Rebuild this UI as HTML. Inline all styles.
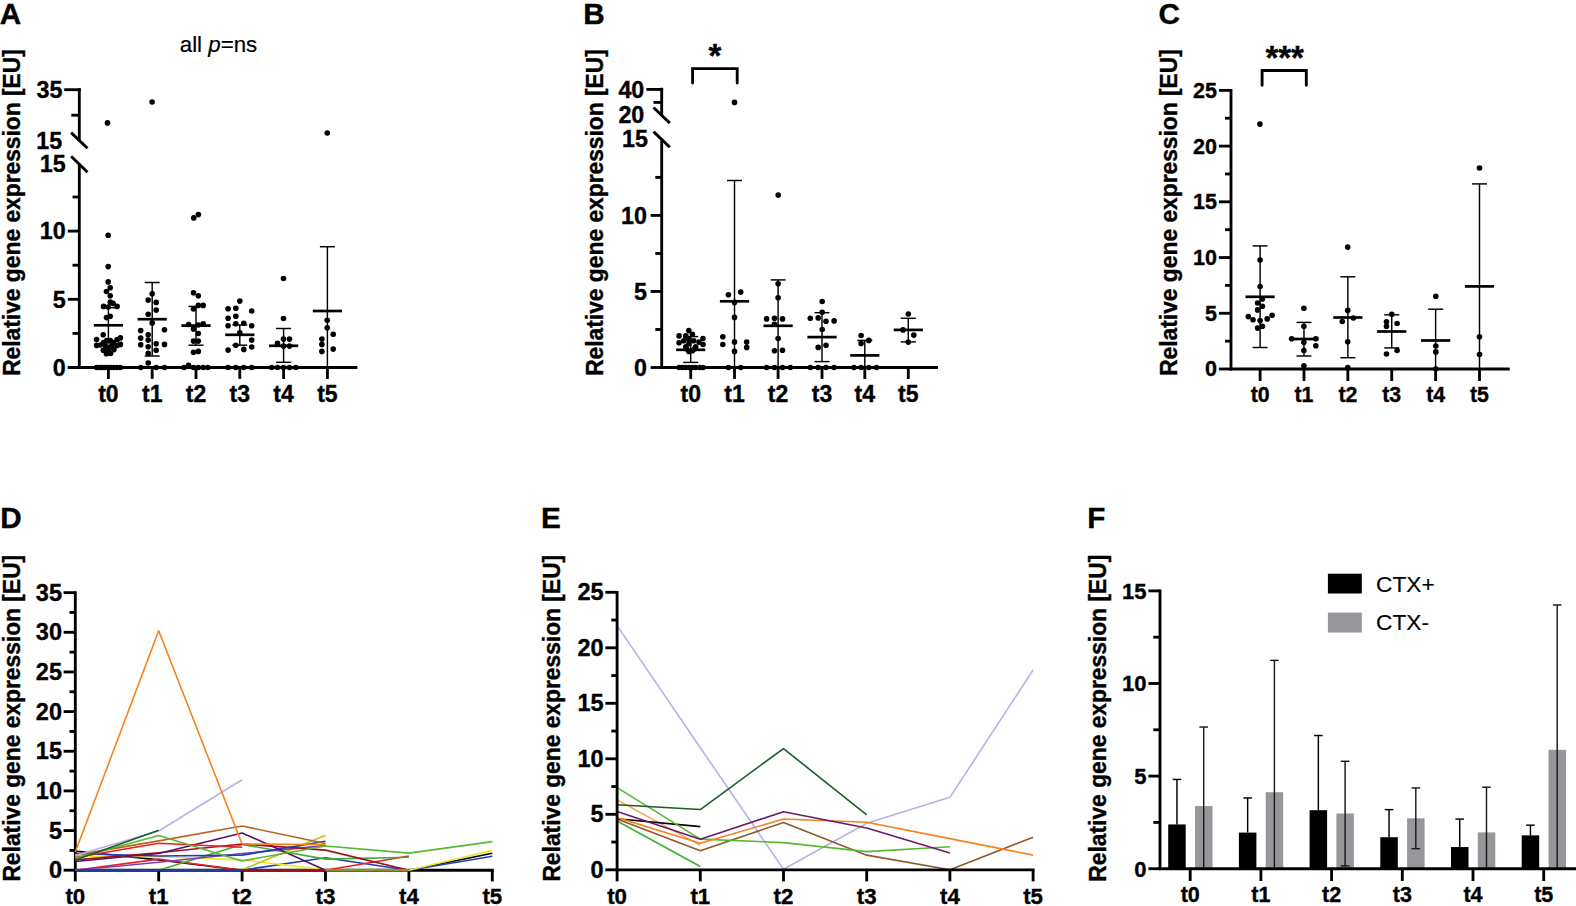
<!DOCTYPE html>
<html lang="en"><head><meta charset="utf-8"><title>Figure</title>
<style>html,body{margin:0;padding:0;background:#fff}body{width:1576px;height:906px;overflow:hidden}svg{display:block}</style></head>
<body>
<svg width="1576" height="906" viewBox="0 0 1576 906" font-family="'Liberation Sans', sans-serif" fill="#000">
<rect width="1576" height="906" fill="#fff"/>
<text x="-0.30" y="24.00" font-size="29.7" font-weight="bold" text-anchor="start" stroke="#000" stroke-width="0.35" >A</text>
<text x="583.20" y="24.00" font-size="29.7" font-weight="bold" text-anchor="start" stroke="#000" stroke-width="0.35" >B</text>
<text x="1158.60" y="24.20" font-size="29.7" font-weight="bold" text-anchor="start" stroke="#000" stroke-width="0.35" >C</text>
<text x="0.20" y="527.60" font-size="29.7" font-weight="bold" text-anchor="start" stroke="#000" stroke-width="0.35" >D</text>
<text x="541.00" y="527.60" font-size="29.7" font-weight="bold" text-anchor="start" stroke="#000" stroke-width="0.35" >E</text>
<text x="1087.30" y="527.60" font-size="29.7" font-weight="bold" text-anchor="start" stroke="#000" stroke-width="0.35" >F</text>
<text transform="translate(19.80,212.50) rotate(-90) scale(1,1.02)" font-size="22.8" font-weight="bold" stroke="#000" stroke-width="0.35" text-anchor="middle">Relative gene expression [EU]</text>
<text x="218.50" y="52.00" font-size="22.3" font-weight="normal" text-anchor="middle"  stroke="#000" stroke-width="0.2">all <tspan font-style="italic">p</tspan>=ns</text>
<line x1="79.30" y1="368.93" x2="79.30" y2="163.90" stroke="#000" stroke-width="2.85" stroke-linecap="butt"/>
<line x1="79.30" y1="141.00" x2="79.30" y2="88.28" stroke="#000" stroke-width="2.85" stroke-linecap="butt"/>
<line x1="71.10" y1="132.60" x2="87.50" y2="148.30" stroke="#000" stroke-width="2.85" stroke-linecap="butt"/>
<line x1="71.10" y1="156.20" x2="87.50" y2="172.20" stroke="#000" stroke-width="2.85" stroke-linecap="butt"/>
<line x1="77.88" y1="367.50" x2="357.40" y2="367.50" stroke="#000" stroke-width="2.85" stroke-linecap="butt"/>
<line x1="67.80" y1="367.50" x2="79.30" y2="367.50" stroke="#000" stroke-width="2.85" stroke-linecap="butt"/>
<line x1="67.80" y1="367.50" x2="79.30" y2="367.50" stroke="#000" stroke-width="2.85" stroke-linecap="butt"/>
<text x="65.60" y="375.89" font-size="23.3" font-weight="bold" text-anchor="end" stroke="#000" stroke-width="0.35" >0</text>
<line x1="67.80" y1="299.30" x2="79.30" y2="299.30" stroke="#000" stroke-width="2.85" stroke-linecap="butt"/>
<text x="65.60" y="307.69" font-size="23.3" font-weight="bold" text-anchor="end" stroke="#000" stroke-width="0.35" >5</text>
<line x1="67.80" y1="231.10" x2="79.30" y2="231.10" stroke="#000" stroke-width="2.85" stroke-linecap="butt"/>
<text x="65.60" y="239.49" font-size="23.3" font-weight="bold" text-anchor="end" stroke="#000" stroke-width="0.35" >10</text>
<line x1="72.50" y1="333.40" x2="79.30" y2="333.40" stroke="#000" stroke-width="2.85" stroke-linecap="butt"/>
<line x1="72.50" y1="265.20" x2="79.30" y2="265.20" stroke="#000" stroke-width="2.85" stroke-linecap="butt"/>
<line x1="72.50" y1="197.00" x2="79.30" y2="197.00" stroke="#000" stroke-width="2.85" stroke-linecap="butt"/>
<text x="65.60" y="172.19" font-size="23.3" font-weight="bold" text-anchor="end" stroke="#000" stroke-width="0.35" >15</text>
<line x1="64.20" y1="89.70" x2="80.72" y2="89.70" stroke="#000" stroke-width="2.85" stroke-linecap="butt"/>
<line x1="71.30" y1="115.20" x2="79.30" y2="115.20" stroke="#000" stroke-width="2.85" stroke-linecap="butt"/>
<text x="62.40" y="97.79" font-size="23.3" font-weight="bold" text-anchor="end" stroke="#000" stroke-width="0.35" >35</text>
<text x="62.20" y="148.89" font-size="23.3" font-weight="bold" text-anchor="end" stroke="#000" stroke-width="0.35" >15</text>
<line x1="108.40" y1="367.50" x2="108.40" y2="378.90" stroke="#000" stroke-width="2.85" stroke-linecap="butt"/>
<text x="108.40" y="402.40" font-size="23" font-weight="bold" text-anchor="middle" stroke="#000" stroke-width="0.35" >t0</text>
<line x1="152.20" y1="367.50" x2="152.20" y2="378.90" stroke="#000" stroke-width="2.85" stroke-linecap="butt"/>
<text x="152.20" y="402.40" font-size="23" font-weight="bold" text-anchor="middle" stroke="#000" stroke-width="0.35" >t1</text>
<line x1="196.00" y1="367.50" x2="196.00" y2="378.90" stroke="#000" stroke-width="2.85" stroke-linecap="butt"/>
<text x="196.00" y="402.40" font-size="23" font-weight="bold" text-anchor="middle" stroke="#000" stroke-width="0.35" >t2</text>
<line x1="239.80" y1="367.50" x2="239.80" y2="378.90" stroke="#000" stroke-width="2.85" stroke-linecap="butt"/>
<text x="239.80" y="402.40" font-size="23" font-weight="bold" text-anchor="middle" stroke="#000" stroke-width="0.35" >t3</text>
<line x1="283.60" y1="367.50" x2="283.60" y2="378.90" stroke="#000" stroke-width="2.85" stroke-linecap="butt"/>
<text x="283.60" y="402.40" font-size="23" font-weight="bold" text-anchor="middle" stroke="#000" stroke-width="0.35" >t4</text>
<line x1="327.40" y1="367.50" x2="327.40" y2="378.90" stroke="#000" stroke-width="2.85" stroke-linecap="butt"/>
<text x="327.40" y="402.40" font-size="23" font-weight="bold" text-anchor="middle" stroke="#000" stroke-width="0.35" >t5</text>
<line x1="108.40" y1="307.70" x2="108.40" y2="342.90" stroke="#000" stroke-width="1.45" stroke-linecap="butt"/>
<line x1="100.90" y1="307.70" x2="115.90" y2="307.70" stroke="#000" stroke-width="1.45" stroke-linecap="butt"/>
<line x1="100.90" y1="342.90" x2="115.90" y2="342.90" stroke="#000" stroke-width="1.45" stroke-linecap="butt"/>
<line x1="93.80" y1="325.30" x2="123.00" y2="325.30" stroke="#000" stroke-width="2.7" stroke-linecap="butt"/>
<line x1="152.20" y1="282.50" x2="152.20" y2="356.00" stroke="#000" stroke-width="1.45" stroke-linecap="butt"/>
<line x1="144.70" y1="282.50" x2="159.70" y2="282.50" stroke="#000" stroke-width="1.45" stroke-linecap="butt"/>
<line x1="144.70" y1="356.00" x2="159.70" y2="356.00" stroke="#000" stroke-width="1.45" stroke-linecap="butt"/>
<line x1="137.60" y1="319.20" x2="166.80" y2="319.20" stroke="#000" stroke-width="2.7" stroke-linecap="butt"/>
<line x1="196.00" y1="306.40" x2="196.00" y2="345.20" stroke="#000" stroke-width="1.45" stroke-linecap="butt"/>
<line x1="188.50" y1="306.40" x2="203.50" y2="306.40" stroke="#000" stroke-width="1.45" stroke-linecap="butt"/>
<line x1="188.50" y1="345.20" x2="203.50" y2="345.20" stroke="#000" stroke-width="1.45" stroke-linecap="butt"/>
<line x1="181.40" y1="325.60" x2="210.60" y2="325.60" stroke="#000" stroke-width="2.7" stroke-linecap="butt"/>
<line x1="239.80" y1="324.90" x2="239.80" y2="345.20" stroke="#000" stroke-width="1.45" stroke-linecap="butt"/>
<line x1="232.30" y1="324.90" x2="247.30" y2="324.90" stroke="#000" stroke-width="1.45" stroke-linecap="butt"/>
<line x1="232.30" y1="345.20" x2="247.30" y2="345.20" stroke="#000" stroke-width="1.45" stroke-linecap="butt"/>
<line x1="225.20" y1="334.80" x2="254.40" y2="334.80" stroke="#000" stroke-width="2.7" stroke-linecap="butt"/>
<line x1="283.60" y1="328.50" x2="283.60" y2="362.30" stroke="#000" stroke-width="1.45" stroke-linecap="butt"/>
<line x1="276.10" y1="328.50" x2="291.10" y2="328.50" stroke="#000" stroke-width="1.45" stroke-linecap="butt"/>
<line x1="276.10" y1="362.30" x2="291.10" y2="362.30" stroke="#000" stroke-width="1.45" stroke-linecap="butt"/>
<line x1="269.00" y1="345.80" x2="298.20" y2="345.80" stroke="#000" stroke-width="2.7" stroke-linecap="butt"/>
<line x1="327.40" y1="246.70" x2="327.40" y2="367.50" stroke="#000" stroke-width="1.45" stroke-linecap="butt"/>
<line x1="319.90" y1="246.70" x2="334.90" y2="246.70" stroke="#000" stroke-width="1.45" stroke-linecap="butt"/>
<line x1="312.80" y1="311.00" x2="342.00" y2="311.00" stroke="#000" stroke-width="2.7" stroke-linecap="butt"/>
<circle cx="107.50" cy="122.90" r="2.8"/>
<circle cx="108.20" cy="235.20" r="2.8"/>
<circle cx="108.20" cy="266.60" r="2.8"/>
<circle cx="108.20" cy="281.90" r="2.8"/>
<circle cx="110.20" cy="287.80" r="2.8"/>
<circle cx="106.50" cy="291.50" r="2.8"/>
<circle cx="110.20" cy="295.80" r="2.8"/>
<circle cx="110.20" cy="302.10" r="2.8"/>
<circle cx="113.10" cy="303.40" r="2.8"/>
<circle cx="103.60" cy="306.40" r="2.8"/>
<circle cx="117.10" cy="306.40" r="2.8"/>
<circle cx="108.20" cy="307.00" r="2.8"/>
<circle cx="110.20" cy="316.30" r="2.8"/>
<circle cx="106.50" cy="317.60" r="2.8"/>
<circle cx="103.20" cy="334.80" r="2.8"/>
<circle cx="96.60" cy="339.50" r="2.8"/>
<circle cx="120.40" cy="337.90" r="2.8"/>
<circle cx="117.10" cy="339.50" r="2.8"/>
<circle cx="96.60" cy="345.40" r="2.8"/>
<circle cx="120.40" cy="344.40" r="2.8"/>
<circle cx="117.10" cy="345.40" r="2.8"/>
<circle cx="100.40" cy="345.00" r="2.8"/>
<circle cx="103.60" cy="342.60" r="2.8"/>
<circle cx="106.70" cy="340.60" r="2.8"/>
<circle cx="110.30" cy="340.60" r="2.8"/>
<circle cx="113.40" cy="342.60" r="2.8"/>
<circle cx="103.30" cy="350.20" r="2.8"/>
<circle cx="113.90" cy="349.60" r="2.8"/>
<circle cx="106.40" cy="353.80" r="2.8"/>
<circle cx="110.60" cy="353.50" r="2.8"/>
<circle cx="108.50" cy="347.20" r="2.8"/>
<circle cx="105.60" cy="346.40" r="2.8"/>
<circle cx="111.60" cy="346.40" r="2.8"/>
<circle cx="108.50" cy="351.20" r="2.8"/>
<circle cx="96.60" cy="367.50" r="2.8"/>
<circle cx="99.90" cy="367.50" r="2.8"/>
<circle cx="102.50" cy="367.50" r="2.8"/>
<circle cx="105.20" cy="367.50" r="2.8"/>
<circle cx="108.20" cy="367.50" r="2.8"/>
<circle cx="111.10" cy="367.50" r="2.8"/>
<circle cx="113.80" cy="367.50" r="2.8"/>
<circle cx="117.10" cy="367.50" r="2.8"/>
<circle cx="120.40" cy="367.50" r="2.8"/>
<circle cx="152.10" cy="102.00" r="2.8"/>
<circle cx="152.20" cy="293.80" r="2.8"/>
<circle cx="148.20" cy="300.10" r="2.8"/>
<circle cx="156.20" cy="302.40" r="2.8"/>
<circle cx="156.20" cy="310.10" r="2.8"/>
<circle cx="148.20" cy="314.30" r="2.8"/>
<circle cx="152.20" cy="322.90" r="2.8"/>
<circle cx="140.70" cy="330.60" r="2.8"/>
<circle cx="164.50" cy="329.80" r="2.8"/>
<circle cx="148.20" cy="334.80" r="2.8"/>
<circle cx="140.70" cy="338.10" r="2.8"/>
<circle cx="148.20" cy="340.10" r="2.8"/>
<circle cx="140.70" cy="344.80" r="2.8"/>
<circle cx="156.20" cy="343.80" r="2.8"/>
<circle cx="164.50" cy="344.40" r="2.8"/>
<circle cx="148.20" cy="346.80" r="2.8"/>
<circle cx="156.20" cy="350.30" r="2.8"/>
<circle cx="148.20" cy="353.40" r="2.8"/>
<circle cx="148.20" cy="363.00" r="2.8"/>
<circle cx="140.70" cy="367.50" r="2.8"/>
<circle cx="156.20" cy="367.50" r="2.8"/>
<circle cx="164.50" cy="367.50" r="2.8"/>
<circle cx="193.80" cy="217.90" r="2.8"/>
<circle cx="198.40" cy="214.60" r="2.8"/>
<circle cx="193.50" cy="292.70" r="2.8"/>
<circle cx="198.30" cy="295.80" r="2.8"/>
<circle cx="198.30" cy="305.40" r="2.8"/>
<circle cx="203.20" cy="305.40" r="2.8"/>
<circle cx="193.50" cy="309.00" r="2.8"/>
<circle cx="188.60" cy="324.50" r="2.8"/>
<circle cx="203.20" cy="323.80" r="2.8"/>
<circle cx="198.30" cy="325.00" r="2.8"/>
<circle cx="193.50" cy="328.90" r="2.8"/>
<circle cx="198.30" cy="333.50" r="2.8"/>
<circle cx="193.50" cy="341.10" r="2.8"/>
<circle cx="198.30" cy="341.10" r="2.8"/>
<circle cx="193.50" cy="352.30" r="2.8"/>
<circle cx="198.30" cy="351.40" r="2.8"/>
<circle cx="184.00" cy="367.50" r="2.8"/>
<circle cx="188.60" cy="365.30" r="2.8"/>
<circle cx="193.50" cy="367.50" r="2.8"/>
<circle cx="198.30" cy="367.50" r="2.8"/>
<circle cx="203.20" cy="367.50" r="2.8"/>
<circle cx="207.80" cy="367.50" r="2.8"/>
<circle cx="239.80" cy="301.10" r="2.8"/>
<circle cx="228.10" cy="308.70" r="2.8"/>
<circle cx="235.80" cy="308.30" r="2.8"/>
<circle cx="251.70" cy="311.00" r="2.8"/>
<circle cx="235.80" cy="316.30" r="2.8"/>
<circle cx="228.10" cy="318.30" r="2.8"/>
<circle cx="235.80" cy="323.80" r="2.8"/>
<circle cx="243.80" cy="323.30" r="2.8"/>
<circle cx="228.10" cy="325.80" r="2.8"/>
<circle cx="251.70" cy="325.80" r="2.8"/>
<circle cx="239.80" cy="332.80" r="2.8"/>
<circle cx="251.70" cy="340.10" r="2.8"/>
<circle cx="235.80" cy="345.20" r="2.8"/>
<circle cx="251.70" cy="347.00" r="2.8"/>
<circle cx="228.10" cy="350.10" r="2.8"/>
<circle cx="243.80" cy="349.40" r="2.8"/>
<circle cx="228.10" cy="367.50" r="2.8"/>
<circle cx="235.80" cy="367.50" r="2.8"/>
<circle cx="243.80" cy="367.50" r="2.8"/>
<circle cx="251.70" cy="367.50" r="2.8"/>
<circle cx="283.50" cy="278.50" r="2.8"/>
<circle cx="283.50" cy="318.50" r="2.8"/>
<circle cx="283.50" cy="339.10" r="2.8"/>
<circle cx="289.50" cy="339.10" r="2.8"/>
<circle cx="277.50" cy="343.40" r="2.8"/>
<circle cx="283.50" cy="346.10" r="2.8"/>
<circle cx="289.50" cy="346.10" r="2.8"/>
<circle cx="271.60" cy="367.50" r="2.8"/>
<circle cx="277.50" cy="367.50" r="2.8"/>
<circle cx="283.50" cy="367.50" r="2.8"/>
<circle cx="289.50" cy="367.50" r="2.8"/>
<circle cx="295.80" cy="367.50" r="2.8"/>
<circle cx="327.30" cy="133.00" r="2.8"/>
<circle cx="327.20" cy="320.30" r="2.8"/>
<circle cx="327.20" cy="327.80" r="2.8"/>
<circle cx="333.20" cy="334.20" r="2.8"/>
<circle cx="321.90" cy="339.10" r="2.8"/>
<circle cx="321.90" cy="344.40" r="2.8"/>
<circle cx="333.20" cy="349.10" r="2.8"/>
<circle cx="321.90" cy="351.40" r="2.8"/>
<text transform="translate(602.80,212.50) rotate(-90) scale(1,1.02)" font-size="22.8" font-weight="bold" stroke="#000" stroke-width="0.35" text-anchor="middle">Relative gene expression [EU]</text>
<line x1="661.70" y1="368.93" x2="661.70" y2="140.35" stroke="#000" stroke-width="2.85" stroke-linecap="butt"/>
<line x1="661.70" y1="115.00" x2="661.70" y2="87.78" stroke="#000" stroke-width="2.85" stroke-linecap="butt"/>
<line x1="653.50" y1="107.50" x2="669.80" y2="123.10" stroke="#000" stroke-width="2.85" stroke-linecap="butt"/>
<line x1="653.50" y1="131.60" x2="669.80" y2="147.30" stroke="#000" stroke-width="2.85" stroke-linecap="butt"/>
<line x1="660.28" y1="367.50" x2="938.00" y2="367.50" stroke="#000" stroke-width="2.85" stroke-linecap="butt"/>
<line x1="650.60" y1="367.50" x2="661.70" y2="367.50" stroke="#000" stroke-width="2.85" stroke-linecap="butt"/>
<text x="647.00" y="375.89" font-size="23.3" font-weight="bold" text-anchor="end" stroke="#000" stroke-width="0.35" >0</text>
<line x1="650.60" y1="291.45" x2="661.70" y2="291.45" stroke="#000" stroke-width="2.85" stroke-linecap="butt"/>
<text x="647.00" y="299.84" font-size="23.3" font-weight="bold" text-anchor="end" stroke="#000" stroke-width="0.35" >5</text>
<line x1="650.60" y1="215.40" x2="661.70" y2="215.40" stroke="#000" stroke-width="2.85" stroke-linecap="butt"/>
<text x="647.00" y="223.79" font-size="23.3" font-weight="bold" text-anchor="end" stroke="#000" stroke-width="0.35" >10</text>
<line x1="655.30" y1="329.48" x2="661.70" y2="329.48" stroke="#000" stroke-width="2.85" stroke-linecap="butt"/>
<line x1="655.30" y1="253.43" x2="661.70" y2="253.43" stroke="#000" stroke-width="2.85" stroke-linecap="butt"/>
<line x1="655.30" y1="177.38" x2="661.70" y2="177.38" stroke="#000" stroke-width="2.85" stroke-linecap="butt"/>
<text x="648.00" y="147.39" font-size="23.3" font-weight="bold" text-anchor="end" stroke="#000" stroke-width="0.35" >15</text>
<line x1="646.40" y1="89.40" x2="663.12" y2="89.40" stroke="#000" stroke-width="2.85" stroke-linecap="butt"/>
<line x1="653.50" y1="102.40" x2="661.70" y2="102.40" stroke="#000" stroke-width="2.85" stroke-linecap="butt"/>
<text x="644.30" y="97.69" font-size="23.3" font-weight="bold" text-anchor="end" stroke="#000" stroke-width="0.35" >40</text>
<text x="644.30" y="123.29" font-size="23.3" font-weight="bold" text-anchor="end" stroke="#000" stroke-width="0.35" >20</text>
<line x1="690.70" y1="367.50" x2="690.70" y2="378.90" stroke="#000" stroke-width="2.85" stroke-linecap="butt"/>
<text x="690.70" y="402.40" font-size="23" font-weight="bold" text-anchor="middle" stroke="#000" stroke-width="0.35" >t0</text>
<line x1="734.50" y1="367.50" x2="734.50" y2="378.90" stroke="#000" stroke-width="2.85" stroke-linecap="butt"/>
<text x="734.50" y="402.40" font-size="23" font-weight="bold" text-anchor="middle" stroke="#000" stroke-width="0.35" >t1</text>
<line x1="778.10" y1="367.50" x2="778.10" y2="378.90" stroke="#000" stroke-width="2.85" stroke-linecap="butt"/>
<text x="778.10" y="402.40" font-size="23" font-weight="bold" text-anchor="middle" stroke="#000" stroke-width="0.35" >t2</text>
<line x1="822.00" y1="367.50" x2="822.00" y2="378.90" stroke="#000" stroke-width="2.85" stroke-linecap="butt"/>
<text x="822.00" y="402.40" font-size="23" font-weight="bold" text-anchor="middle" stroke="#000" stroke-width="0.35" >t3</text>
<line x1="864.80" y1="367.50" x2="864.80" y2="378.90" stroke="#000" stroke-width="2.85" stroke-linecap="butt"/>
<text x="864.80" y="402.40" font-size="23" font-weight="bold" text-anchor="middle" stroke="#000" stroke-width="0.35" >t4</text>
<line x1="908.30" y1="367.50" x2="908.30" y2="378.90" stroke="#000" stroke-width="2.85" stroke-linecap="butt"/>
<text x="908.30" y="402.40" font-size="23" font-weight="bold" text-anchor="middle" stroke="#000" stroke-width="0.35" >t5</text>
<polyline points="692.6,83 692.6,68.6 737.2,68.6 737.2,83" fill="none" stroke="#000" stroke-width="2.85" stroke-linecap="round" stroke-linejoin="miter"/>
<text x="715.00" y="66.50" font-size="33" font-weight="bold" text-anchor="middle" stroke="#000" stroke-width="0.35" >*</text>
<line x1="690.70" y1="336.60" x2="690.70" y2="362.40" stroke="#000" stroke-width="1.45" stroke-linecap="butt"/>
<line x1="683.20" y1="336.60" x2="698.20" y2="336.60" stroke="#000" stroke-width="1.45" stroke-linecap="butt"/>
<line x1="683.20" y1="362.40" x2="698.20" y2="362.40" stroke="#000" stroke-width="1.45" stroke-linecap="butt"/>
<line x1="676.10" y1="349.80" x2="705.30" y2="349.80" stroke="#000" stroke-width="2.7" stroke-linecap="butt"/>
<line x1="734.50" y1="180.50" x2="734.50" y2="367.50" stroke="#000" stroke-width="1.45" stroke-linecap="butt"/>
<line x1="727.00" y1="180.50" x2="742.00" y2="180.50" stroke="#000" stroke-width="1.45" stroke-linecap="butt"/>
<line x1="719.90" y1="301.30" x2="749.10" y2="301.30" stroke="#000" stroke-width="2.7" stroke-linecap="butt"/>
<line x1="778.10" y1="279.90" x2="778.10" y2="367.50" stroke="#000" stroke-width="1.45" stroke-linecap="butt"/>
<line x1="770.60" y1="279.90" x2="785.60" y2="279.90" stroke="#000" stroke-width="1.45" stroke-linecap="butt"/>
<line x1="763.50" y1="325.80" x2="792.70" y2="325.80" stroke="#000" stroke-width="2.7" stroke-linecap="butt"/>
<line x1="822.00" y1="312.70" x2="822.00" y2="361.60" stroke="#000" stroke-width="1.45" stroke-linecap="butt"/>
<line x1="814.50" y1="312.70" x2="829.50" y2="312.70" stroke="#000" stroke-width="1.45" stroke-linecap="butt"/>
<line x1="814.50" y1="361.60" x2="829.50" y2="361.60" stroke="#000" stroke-width="1.45" stroke-linecap="butt"/>
<line x1="807.40" y1="337.10" x2="836.60" y2="337.10" stroke="#000" stroke-width="2.7" stroke-linecap="butt"/>
<line x1="864.80" y1="340.40" x2="864.80" y2="367.50" stroke="#000" stroke-width="1.45" stroke-linecap="butt"/>
<line x1="857.30" y1="340.40" x2="872.30" y2="340.40" stroke="#000" stroke-width="1.45" stroke-linecap="butt"/>
<line x1="850.20" y1="355.40" x2="879.40" y2="355.40" stroke="#000" stroke-width="2.7" stroke-linecap="butt"/>
<line x1="908.30" y1="318.30" x2="908.30" y2="341.90" stroke="#000" stroke-width="1.45" stroke-linecap="butt"/>
<line x1="900.80" y1="318.30" x2="915.80" y2="318.30" stroke="#000" stroke-width="1.45" stroke-linecap="butt"/>
<line x1="900.80" y1="341.90" x2="915.80" y2="341.90" stroke="#000" stroke-width="1.45" stroke-linecap="butt"/>
<line x1="893.70" y1="329.90" x2="922.90" y2="329.90" stroke="#000" stroke-width="2.7" stroke-linecap="butt"/>
<circle cx="688.80" cy="330.60" r="2.8"/>
<circle cx="679.10" cy="335.90" r="2.8"/>
<circle cx="685.80" cy="335.90" r="2.8"/>
<circle cx="692.40" cy="334.20" r="2.8"/>
<circle cx="703.00" cy="338.50" r="2.8"/>
<circle cx="679.10" cy="342.80" r="2.8"/>
<circle cx="683.80" cy="340.80" r="2.8"/>
<circle cx="688.80" cy="339.50" r="2.8"/>
<circle cx="693.70" cy="340.80" r="2.8"/>
<circle cx="699.00" cy="342.10" r="2.8"/>
<circle cx="703.00" cy="344.50" r="2.8"/>
<circle cx="685.80" cy="346.80" r="2.8"/>
<circle cx="695.70" cy="346.80" r="2.8"/>
<circle cx="688.80" cy="351.40" r="2.8"/>
<circle cx="692.40" cy="350.70" r="2.8"/>
<circle cx="688.90" cy="343.80" r="2.8"/>
<circle cx="686.60" cy="349.00" r="2.8"/>
<circle cx="694.60" cy="349.00" r="2.8"/>
<circle cx="679.10" cy="367.50" r="2.8"/>
<circle cx="682.40" cy="367.50" r="2.8"/>
<circle cx="685.80" cy="367.50" r="2.8"/>
<circle cx="689.10" cy="367.50" r="2.8"/>
<circle cx="692.40" cy="367.50" r="2.8"/>
<circle cx="695.70" cy="367.50" r="2.8"/>
<circle cx="699.70" cy="367.50" r="2.8"/>
<circle cx="703.00" cy="367.50" r="2.8"/>
<circle cx="734.50" cy="102.40" r="2.8"/>
<circle cx="728.40" cy="294.70" r="2.8"/>
<circle cx="740.70" cy="292.10" r="2.8"/>
<circle cx="734.50" cy="302.40" r="2.8"/>
<circle cx="734.50" cy="317.40" r="2.8"/>
<circle cx="722.80" cy="336.80" r="2.8"/>
<circle cx="722.80" cy="344.50" r="2.8"/>
<circle cx="734.50" cy="341.90" r="2.8"/>
<circle cx="746.70" cy="342.10" r="2.8"/>
<circle cx="746.70" cy="347.40" r="2.8"/>
<circle cx="734.50" cy="351.40" r="2.8"/>
<circle cx="728.40" cy="367.50" r="2.8"/>
<circle cx="740.70" cy="367.50" r="2.8"/>
<circle cx="778.20" cy="195.10" r="2.8"/>
<circle cx="778.10" cy="283.80" r="2.8"/>
<circle cx="778.10" cy="297.70" r="2.8"/>
<circle cx="766.60" cy="318.90" r="2.8"/>
<circle cx="774.50" cy="318.30" r="2.8"/>
<circle cx="782.50" cy="318.90" r="2.8"/>
<circle cx="774.50" cy="324.20" r="2.8"/>
<circle cx="778.10" cy="338.50" r="2.8"/>
<circle cx="774.50" cy="350.70" r="2.8"/>
<circle cx="782.50" cy="350.30" r="2.8"/>
<circle cx="766.60" cy="367.50" r="2.8"/>
<circle cx="774.50" cy="367.50" r="2.8"/>
<circle cx="782.50" cy="367.50" r="2.8"/>
<circle cx="790.40" cy="367.50" r="2.8"/>
<circle cx="822.20" cy="301.50" r="2.8"/>
<circle cx="822.20" cy="312.30" r="2.8"/>
<circle cx="810.30" cy="318.30" r="2.8"/>
<circle cx="818.20" cy="317.90" r="2.8"/>
<circle cx="826.00" cy="321.20" r="2.8"/>
<circle cx="834.10" cy="320.90" r="2.8"/>
<circle cx="822.20" cy="329.50" r="2.8"/>
<circle cx="826.00" cy="345.20" r="2.8"/>
<circle cx="818.20" cy="347.40" r="2.8"/>
<circle cx="810.30" cy="367.50" r="2.8"/>
<circle cx="818.20" cy="367.50" r="2.8"/>
<circle cx="826.00" cy="367.50" r="2.8"/>
<circle cx="834.10" cy="367.50" r="2.8"/>
<circle cx="861.10" cy="335.50" r="2.8"/>
<circle cx="868.80" cy="340.40" r="2.8"/>
<circle cx="861.10" cy="343.40" r="2.8"/>
<circle cx="854.00" cy="367.50" r="2.8"/>
<circle cx="861.10" cy="367.50" r="2.8"/>
<circle cx="868.80" cy="367.50" r="2.8"/>
<circle cx="876.50" cy="367.50" r="2.8"/>
<circle cx="908.30" cy="314.00" r="2.8"/>
<circle cx="903.00" cy="329.90" r="2.8"/>
<circle cx="913.80" cy="335.10" r="2.8"/>
<circle cx="908.30" cy="342.10" r="2.8"/>
<text transform="translate(1177.40,212.50) rotate(-90) scale(1,1.02)" font-size="22.8" font-weight="bold" stroke="#000" stroke-width="0.35" text-anchor="middle">Relative gene expression [EU]</text>
<line x1="1231.00" y1="370.43" x2="1231.00" y2="88.95" stroke="#000" stroke-width="2.85" stroke-linecap="butt"/>
<line x1="1229.58" y1="369.00" x2="1509.70" y2="369.00" stroke="#000" stroke-width="2.85" stroke-linecap="butt"/>
<line x1="1218.90" y1="369.00" x2="1231.00" y2="369.00" stroke="#000" stroke-width="2.85" stroke-linecap="butt"/>
<text x="1217.00" y="376.44" font-size="21.5" font-weight="bold" text-anchor="end" stroke="#000" stroke-width="0.35" >0</text>
<line x1="1218.90" y1="313.27" x2="1231.00" y2="313.27" stroke="#000" stroke-width="2.85" stroke-linecap="butt"/>
<text x="1217.00" y="320.71" font-size="21.5" font-weight="bold" text-anchor="end" stroke="#000" stroke-width="0.35" >5</text>
<line x1="1218.90" y1="257.55" x2="1231.00" y2="257.55" stroke="#000" stroke-width="2.85" stroke-linecap="butt"/>
<text x="1217.00" y="264.99" font-size="21.5" font-weight="bold" text-anchor="end" stroke="#000" stroke-width="0.35" >10</text>
<line x1="1218.90" y1="201.83" x2="1231.00" y2="201.83" stroke="#000" stroke-width="2.85" stroke-linecap="butt"/>
<text x="1217.00" y="209.27" font-size="21.5" font-weight="bold" text-anchor="end" stroke="#000" stroke-width="0.35" >15</text>
<line x1="1218.90" y1="146.10" x2="1231.00" y2="146.10" stroke="#000" stroke-width="2.85" stroke-linecap="butt"/>
<text x="1217.00" y="153.54" font-size="21.5" font-weight="bold" text-anchor="end" stroke="#000" stroke-width="0.35" >20</text>
<line x1="1218.90" y1="90.38" x2="1231.00" y2="90.38" stroke="#000" stroke-width="2.85" stroke-linecap="butt"/>
<text x="1217.00" y="97.81" font-size="21.5" font-weight="bold" text-anchor="end" stroke="#000" stroke-width="0.35" >25</text>
<line x1="1225.00" y1="341.14" x2="1231.00" y2="341.14" stroke="#000" stroke-width="2.85" stroke-linecap="butt"/>
<line x1="1225.00" y1="285.41" x2="1231.00" y2="285.41" stroke="#000" stroke-width="2.85" stroke-linecap="butt"/>
<line x1="1225.00" y1="229.69" x2="1231.00" y2="229.69" stroke="#000" stroke-width="2.85" stroke-linecap="butt"/>
<line x1="1225.00" y1="173.96" x2="1231.00" y2="173.96" stroke="#000" stroke-width="2.85" stroke-linecap="butt"/>
<line x1="1225.00" y1="118.24" x2="1231.00" y2="118.24" stroke="#000" stroke-width="2.85" stroke-linecap="butt"/>
<line x1="1260.10" y1="369.00" x2="1260.10" y2="381.00" stroke="#000" stroke-width="2.85" stroke-linecap="butt"/>
<text x="1260.10" y="402.40" font-size="21.3" font-weight="bold" text-anchor="middle" stroke="#000" stroke-width="0.35" >t0</text>
<line x1="1303.98" y1="369.00" x2="1303.98" y2="381.00" stroke="#000" stroke-width="2.85" stroke-linecap="butt"/>
<text x="1303.98" y="402.40" font-size="21.3" font-weight="bold" text-anchor="middle" stroke="#000" stroke-width="0.35" >t1</text>
<line x1="1347.86" y1="369.00" x2="1347.86" y2="381.00" stroke="#000" stroke-width="2.85" stroke-linecap="butt"/>
<text x="1347.86" y="402.40" font-size="21.3" font-weight="bold" text-anchor="middle" stroke="#000" stroke-width="0.35" >t2</text>
<line x1="1391.74" y1="369.00" x2="1391.74" y2="381.00" stroke="#000" stroke-width="2.85" stroke-linecap="butt"/>
<text x="1391.74" y="402.40" font-size="21.3" font-weight="bold" text-anchor="middle" stroke="#000" stroke-width="0.35" >t3</text>
<line x1="1435.62" y1="369.00" x2="1435.62" y2="381.00" stroke="#000" stroke-width="2.85" stroke-linecap="butt"/>
<text x="1435.62" y="402.40" font-size="21.3" font-weight="bold" text-anchor="middle" stroke="#000" stroke-width="0.35" >t4</text>
<line x1="1479.50" y1="369.00" x2="1479.50" y2="381.00" stroke="#000" stroke-width="2.85" stroke-linecap="butt"/>
<text x="1479.50" y="402.40" font-size="21.3" font-weight="bold" text-anchor="middle" stroke="#000" stroke-width="0.35" >t5</text>
<polyline points="1262.1,85.3 1262.1,70.5 1306.3,70.5 1306.3,85.3" fill="none" stroke="#000" stroke-width="2.85" stroke-linecap="round" stroke-linejoin="miter"/>
<text x="1284.70" y="68.50" font-size="33" font-weight="bold" text-anchor="middle" stroke="#000" stroke-width="0.35" >***</text>
<line x1="1260.10" y1="245.90" x2="1260.10" y2="347.50" stroke="#000" stroke-width="1.45" stroke-linecap="butt"/>
<line x1="1252.60" y1="245.90" x2="1267.60" y2="245.90" stroke="#000" stroke-width="1.45" stroke-linecap="butt"/>
<line x1="1252.60" y1="347.50" x2="1267.60" y2="347.50" stroke="#000" stroke-width="1.45" stroke-linecap="butt"/>
<line x1="1245.50" y1="296.80" x2="1274.70" y2="296.80" stroke="#000" stroke-width="2.7" stroke-linecap="butt"/>
<line x1="1303.98" y1="322.40" x2="1303.98" y2="356.00" stroke="#000" stroke-width="1.45" stroke-linecap="butt"/>
<line x1="1296.48" y1="322.40" x2="1311.48" y2="322.40" stroke="#000" stroke-width="1.45" stroke-linecap="butt"/>
<line x1="1296.48" y1="356.00" x2="1311.48" y2="356.00" stroke="#000" stroke-width="1.45" stroke-linecap="butt"/>
<line x1="1289.38" y1="339.00" x2="1318.58" y2="339.00" stroke="#000" stroke-width="2.7" stroke-linecap="butt"/>
<line x1="1347.86" y1="276.80" x2="1347.86" y2="357.70" stroke="#000" stroke-width="1.45" stroke-linecap="butt"/>
<line x1="1340.36" y1="276.80" x2="1355.36" y2="276.80" stroke="#000" stroke-width="1.45" stroke-linecap="butt"/>
<line x1="1340.36" y1="357.70" x2="1355.36" y2="357.70" stroke="#000" stroke-width="1.45" stroke-linecap="butt"/>
<line x1="1333.26" y1="317.50" x2="1362.46" y2="317.50" stroke="#000" stroke-width="2.7" stroke-linecap="butt"/>
<line x1="1391.74" y1="314.80" x2="1391.74" y2="347.90" stroke="#000" stroke-width="1.45" stroke-linecap="butt"/>
<line x1="1384.24" y1="314.80" x2="1399.24" y2="314.80" stroke="#000" stroke-width="1.45" stroke-linecap="butt"/>
<line x1="1384.24" y1="347.90" x2="1399.24" y2="347.90" stroke="#000" stroke-width="1.45" stroke-linecap="butt"/>
<line x1="1377.14" y1="331.50" x2="1406.34" y2="331.50" stroke="#000" stroke-width="2.7" stroke-linecap="butt"/>
<line x1="1435.62" y1="309.20" x2="1435.62" y2="369.00" stroke="#000" stroke-width="1.45" stroke-linecap="butt"/>
<line x1="1428.12" y1="309.20" x2="1443.12" y2="309.20" stroke="#000" stroke-width="1.45" stroke-linecap="butt"/>
<line x1="1421.02" y1="340.50" x2="1450.22" y2="340.50" stroke="#000" stroke-width="2.7" stroke-linecap="butt"/>
<line x1="1479.50" y1="183.90" x2="1479.50" y2="369.00" stroke="#000" stroke-width="1.45" stroke-linecap="butt"/>
<line x1="1472.00" y1="183.90" x2="1487.00" y2="183.90" stroke="#000" stroke-width="1.45" stroke-linecap="butt"/>
<line x1="1464.90" y1="286.40" x2="1494.10" y2="286.40" stroke="#000" stroke-width="2.7" stroke-linecap="butt"/>
<circle cx="1259.90" cy="124.10" r="2.8"/>
<circle cx="1260.10" cy="260.00" r="2.8"/>
<circle cx="1260.10" cy="286.50" r="2.8"/>
<circle cx="1262.40" cy="298.90" r="2.8"/>
<circle cx="1257.60" cy="303.00" r="2.8"/>
<circle cx="1262.40" cy="306.30" r="2.8"/>
<circle cx="1257.60" cy="309.90" r="2.8"/>
<circle cx="1248.30" cy="316.60" r="2.8"/>
<circle cx="1272.10" cy="315.30" r="2.8"/>
<circle cx="1253.00" cy="319.80" r="2.8"/>
<circle cx="1267.20" cy="318.90" r="2.8"/>
<circle cx="1260.10" cy="320.60" r="2.8"/>
<circle cx="1262.40" cy="326.30" r="2.8"/>
<circle cx="1257.60" cy="328.10" r="2.8"/>
<circle cx="1303.90" cy="308.30" r="2.8"/>
<circle cx="1303.90" cy="326.30" r="2.8"/>
<circle cx="1291.60" cy="338.70" r="2.8"/>
<circle cx="1315.80" cy="338.70" r="2.8"/>
<circle cx="1303.90" cy="342.20" r="2.8"/>
<circle cx="1315.80" cy="345.70" r="2.8"/>
<circle cx="1303.90" cy="350.50" r="2.8"/>
<circle cx="1303.90" cy="365.70" r="2.8"/>
<circle cx="1347.70" cy="247.10" r="2.8"/>
<circle cx="1347.70" cy="310.40" r="2.8"/>
<circle cx="1342.30" cy="321.50" r="2.8"/>
<circle cx="1353.40" cy="318.00" r="2.8"/>
<circle cx="1347.70" cy="341.80" r="2.8"/>
<circle cx="1347.70" cy="367.50" r="2.8"/>
<circle cx="1391.80" cy="314.20" r="2.8"/>
<circle cx="1386.50" cy="321.70" r="2.8"/>
<circle cx="1397.10" cy="323.50" r="2.8"/>
<circle cx="1386.50" cy="326.20" r="2.8"/>
<circle cx="1397.10" cy="350.50" r="2.8"/>
<circle cx="1386.50" cy="354.00" r="2.8"/>
<circle cx="1435.80" cy="296.20" r="2.8"/>
<circle cx="1435.80" cy="346.00" r="2.8"/>
<circle cx="1435.80" cy="351.90" r="2.8"/>
<circle cx="1435.80" cy="369.00" r="2.8"/>
<circle cx="1479.50" cy="168.00" r="2.8"/>
<circle cx="1479.50" cy="336.80" r="2.8"/>
<circle cx="1479.50" cy="354.50" r="2.8"/>
<text transform="translate(19.50,718.20) rotate(-90) scale(1,1.06)" font-size="22.8" font-weight="bold" stroke="#000" stroke-width="0.35" text-anchor="middle">Relative gene expression [EU]</text>
<line x1="75.30" y1="871.62" x2="75.30" y2="591.23" stroke="#000" stroke-width="2.85" stroke-linecap="butt"/>
<line x1="73.88" y1="870.20" x2="493.73" y2="870.20" stroke="#000" stroke-width="2.85" stroke-linecap="butt"/>
<line x1="63.60" y1="870.20" x2="75.30" y2="870.20" stroke="#000" stroke-width="2.85" stroke-linecap="butt"/>
<text x="62.00" y="878.16" font-size="23.5" font-weight="bold" text-anchor="end" stroke="#000" stroke-width="0.35" >0</text>
<line x1="63.60" y1="830.55" x2="75.30" y2="830.55" stroke="#000" stroke-width="2.85" stroke-linecap="butt"/>
<text x="62.00" y="838.51" font-size="23.5" font-weight="bold" text-anchor="end" stroke="#000" stroke-width="0.35" >5</text>
<line x1="63.60" y1="790.90" x2="75.30" y2="790.90" stroke="#000" stroke-width="2.85" stroke-linecap="butt"/>
<text x="62.00" y="798.86" font-size="23.5" font-weight="bold" text-anchor="end" stroke="#000" stroke-width="0.35" >10</text>
<line x1="63.60" y1="751.25" x2="75.30" y2="751.25" stroke="#000" stroke-width="2.85" stroke-linecap="butt"/>
<text x="62.00" y="759.21" font-size="23.5" font-weight="bold" text-anchor="end" stroke="#000" stroke-width="0.35" >15</text>
<line x1="63.60" y1="711.60" x2="75.30" y2="711.60" stroke="#000" stroke-width="2.85" stroke-linecap="butt"/>
<text x="62.00" y="719.56" font-size="23.5" font-weight="bold" text-anchor="end" stroke="#000" stroke-width="0.35" >20</text>
<line x1="63.60" y1="671.95" x2="75.30" y2="671.95" stroke="#000" stroke-width="2.85" stroke-linecap="butt"/>
<text x="62.00" y="679.91" font-size="23.5" font-weight="bold" text-anchor="end" stroke="#000" stroke-width="0.35" >25</text>
<line x1="63.60" y1="632.30" x2="75.30" y2="632.30" stroke="#000" stroke-width="2.85" stroke-linecap="butt"/>
<text x="62.00" y="640.26" font-size="23.5" font-weight="bold" text-anchor="end" stroke="#000" stroke-width="0.35" >30</text>
<line x1="63.60" y1="592.65" x2="75.30" y2="592.65" stroke="#000" stroke-width="2.85" stroke-linecap="butt"/>
<text x="62.00" y="600.61" font-size="23.5" font-weight="bold" text-anchor="end" stroke="#000" stroke-width="0.35" >35</text>
<line x1="69.50" y1="850.38" x2="75.30" y2="850.38" stroke="#000" stroke-width="2.85" stroke-linecap="butt"/>
<line x1="69.50" y1="810.73" x2="75.30" y2="810.73" stroke="#000" stroke-width="2.85" stroke-linecap="butt"/>
<line x1="69.50" y1="771.08" x2="75.30" y2="771.08" stroke="#000" stroke-width="2.85" stroke-linecap="butt"/>
<line x1="69.50" y1="731.43" x2="75.30" y2="731.43" stroke="#000" stroke-width="2.85" stroke-linecap="butt"/>
<line x1="69.50" y1="691.78" x2="75.30" y2="691.78" stroke="#000" stroke-width="2.85" stroke-linecap="butt"/>
<line x1="69.50" y1="652.12" x2="75.30" y2="652.12" stroke="#000" stroke-width="2.85" stroke-linecap="butt"/>
<line x1="69.50" y1="612.48" x2="75.30" y2="612.48" stroke="#000" stroke-width="2.85" stroke-linecap="butt"/>
<line x1="75.30" y1="870.20" x2="75.30" y2="881.40" stroke="#000" stroke-width="2.85" stroke-linecap="butt"/>
<text x="75.30" y="903.50" font-size="22.3" font-weight="bold" text-anchor="middle" stroke="#000" stroke-width="0.35" >t0</text>
<line x1="158.70" y1="870.20" x2="158.70" y2="881.40" stroke="#000" stroke-width="2.85" stroke-linecap="butt"/>
<text x="158.70" y="903.50" font-size="22.3" font-weight="bold" text-anchor="middle" stroke="#000" stroke-width="0.35" >t1</text>
<line x1="242.10" y1="870.20" x2="242.10" y2="881.40" stroke="#000" stroke-width="2.85" stroke-linecap="butt"/>
<text x="242.10" y="903.50" font-size="22.3" font-weight="bold" text-anchor="middle" stroke="#000" stroke-width="0.35" >t2</text>
<line x1="325.50" y1="870.20" x2="325.50" y2="881.40" stroke="#000" stroke-width="2.85" stroke-linecap="butt"/>
<text x="325.50" y="903.50" font-size="22.3" font-weight="bold" text-anchor="middle" stroke="#000" stroke-width="0.35" >t3</text>
<line x1="408.90" y1="870.20" x2="408.90" y2="881.40" stroke="#000" stroke-width="2.85" stroke-linecap="butt"/>
<text x="408.90" y="903.50" font-size="22.3" font-weight="bold" text-anchor="middle" stroke="#000" stroke-width="0.35" >t4</text>
<line x1="492.30" y1="870.20" x2="492.30" y2="881.40" stroke="#000" stroke-width="2.85" stroke-linecap="butt"/>
<text x="492.30" y="903.50" font-size="22.3" font-weight="bold" text-anchor="middle" stroke="#000" stroke-width="0.35" >t5</text>
<polyline points="75.30,851.17 158.70,859.89 242.10,870.20 325.50,870.20 408.90,870.20 492.30,853.31" fill="none" stroke="#000000" stroke-width="1.6" stroke-linejoin="round"/>
<polyline points="75.30,870.20 158.70,870.20 242.10,870.20 325.50,857.75 408.90,870.20 492.30,856.32" fill="none" stroke="#1f3fb5" stroke-width="1.6" stroke-linejoin="round"/>
<polyline points="75.30,855.93 158.70,856.72 242.10,859.89 325.50,869.80 408.90,870.20 492.30,850.38" fill="none" stroke="#f2e41f" stroke-width="1.6" stroke-linejoin="round"/>
<polyline points="75.30,870.20 158.70,859.10 242.10,870.20 325.50,870.20 408.90,855.93" fill="none" stroke="#ee1c25" stroke-width="1.6" stroke-linejoin="round"/>
<polyline points="75.30,870.20 158.70,870.20 242.10,844.43 325.50,859.10 408.90,857.19" fill="none" stroke="#3cb034" stroke-width="1.6" stroke-linejoin="round"/>
<polyline points="242.10,869.80 325.50,835.31" fill="none" stroke="#b5c41f" stroke-width="1.6" stroke-linejoin="round"/>
<polyline points="75.30,870.20 158.70,862.27 242.10,853.55 325.50,845.62" fill="none" stroke="#7b3fb5" stroke-width="1.6" stroke-linejoin="round"/>
<polyline points="75.30,853.55 158.70,855.93 242.10,855.13 325.50,841.26" fill="none" stroke="#1f3fb5" stroke-width="1.6" stroke-linejoin="round"/>
<polyline points="75.30,859.89 158.70,852.75 242.10,844.03 325.50,850.14 408.90,870.20" fill="none" stroke="#a01020" stroke-width="1.6" stroke-linejoin="round"/>
<polyline points="75.30,861.48 158.70,853.55 242.10,832.93 325.50,870.20" fill="none" stroke="#5b0f6b" stroke-width="1.6" stroke-linejoin="round"/>
<polyline points="75.30,855.13 158.70,840.86 242.10,825.95 325.50,843.56" fill="none" stroke="#b5651d" stroke-width="1.6" stroke-linejoin="round"/>
<polyline points="75.30,857.51 158.70,843.32 242.10,847.20" fill="none" stroke="#ee1c25" stroke-width="1.6" stroke-linejoin="round"/>
<polyline points="75.30,858.31 158.70,835.47 242.10,860.92 325.50,846.01 408.90,853.15 492.30,841.65" fill="none" stroke="#5ab82e" stroke-width="1.6" stroke-linejoin="round"/>
<polyline points="75.30,855.53 158.70,831.03 242.10,779.80" fill="none" stroke="#b4b4e6" stroke-width="1.6" stroke-linejoin="round"/>
<polyline points="75.30,859.89 158.70,830.23" fill="none" stroke="#1a5c2a" stroke-width="1.6" stroke-linejoin="round"/>
<polyline points="75.30,851.96 158.70,630.71 242.10,844.03 325.50,844.43" fill="none" stroke="#f5821f" stroke-width="1.6" stroke-linejoin="round"/>
<line x1="242.10" y1="870.2" x2="325.50" y2="870.2" stroke="#9a0f1f" stroke-width="2.4"/>
<line x1="325.50" y1="870.2" x2="408.90" y2="870.2" stroke="#8f8f2c" stroke-width="2.4"/>
<line x1="76.60" y1="870.2" x2="242.10" y2="870.2" stroke="#1f3c96" stroke-width="2.5"/>
<text transform="translate(560.40,718.20) rotate(-90) scale(1,1.06)" font-size="22.8" font-weight="bold" stroke="#000" stroke-width="0.35" text-anchor="middle">Relative gene expression [EU]</text>
<polyline points="617.10,625.60 700.30,747.70 783.50,869.25 866.70,823.18 949.90,797.32 1033.10,670.00" fill="none" stroke="#b4b4e6" stroke-width="1.6" stroke-linejoin="round"/>
<polyline points="617.10,820.96 700.30,866.47" fill="none" stroke="#3cb034" stroke-width="1.6" stroke-linejoin="round"/>
<polyline points="617.10,819.07 700.30,850.82 783.50,822.40 866.70,855.15 949.90,869.80 1033.10,837.28" fill="none" stroke="#8b5a2b" stroke-width="1.6" stroke-linejoin="round"/>
<polyline points="617.10,799.87 700.30,845.38" fill="none" stroke="#f5a55a" stroke-width="1.6" stroke-linejoin="round"/>
<polyline points="617.10,818.74 700.30,826.62" fill="none" stroke="#000000" stroke-width="1.6" stroke-linejoin="round"/>
<polyline points="617.10,787.66 700.30,839.16 783.50,842.60 866.70,851.60 949.90,846.71" fill="none" stroke="#5ab82e" stroke-width="1.6" stroke-linejoin="round"/>
<polyline points="617.10,817.63 700.30,843.16 783.50,819.07 866.70,822.29 949.90,838.61 1033.10,855.15" fill="none" stroke="#f5821f" stroke-width="1.6" stroke-linejoin="round"/>
<polyline points="617.10,811.52 700.30,839.16 783.50,811.75 866.70,827.95 949.90,852.93" fill="none" stroke="#6a1a6b" stroke-width="1.6" stroke-linejoin="round"/>
<polyline points="617.10,804.75 700.30,809.53 783.50,748.59 866.70,814.97" fill="none" stroke="#1a5c2a" stroke-width="1.6" stroke-linejoin="round"/>
<line x1="617.10" y1="871.22" x2="617.10" y2="590.88" stroke="#000" stroke-width="2.85" stroke-linecap="butt"/>
<line x1="615.68" y1="869.80" x2="1034.52" y2="869.80" stroke="#000" stroke-width="2.85" stroke-linecap="butt"/>
<line x1="605.40" y1="869.80" x2="617.10" y2="869.80" stroke="#000" stroke-width="2.85" stroke-linecap="butt"/>
<text x="603.60" y="877.76" font-size="23.5" font-weight="bold" text-anchor="end" stroke="#000" stroke-width="0.35" >0</text>
<line x1="605.40" y1="814.30" x2="617.10" y2="814.30" stroke="#000" stroke-width="2.85" stroke-linecap="butt"/>
<text x="603.60" y="822.26" font-size="23.5" font-weight="bold" text-anchor="end" stroke="#000" stroke-width="0.35" >5</text>
<line x1="605.40" y1="758.80" x2="617.10" y2="758.80" stroke="#000" stroke-width="2.85" stroke-linecap="butt"/>
<text x="603.60" y="766.76" font-size="23.5" font-weight="bold" text-anchor="end" stroke="#000" stroke-width="0.35" >10</text>
<line x1="605.40" y1="703.30" x2="617.10" y2="703.30" stroke="#000" stroke-width="2.85" stroke-linecap="butt"/>
<text x="603.60" y="711.26" font-size="23.5" font-weight="bold" text-anchor="end" stroke="#000" stroke-width="0.35" >15</text>
<line x1="605.40" y1="647.80" x2="617.10" y2="647.80" stroke="#000" stroke-width="2.85" stroke-linecap="butt"/>
<text x="603.60" y="655.76" font-size="23.5" font-weight="bold" text-anchor="end" stroke="#000" stroke-width="0.35" >20</text>
<line x1="605.40" y1="592.30" x2="617.10" y2="592.30" stroke="#000" stroke-width="2.85" stroke-linecap="butt"/>
<text x="603.60" y="600.26" font-size="23.5" font-weight="bold" text-anchor="end" stroke="#000" stroke-width="0.35" >25</text>
<line x1="611.30" y1="842.05" x2="617.10" y2="842.05" stroke="#000" stroke-width="2.85" stroke-linecap="butt"/>
<line x1="611.30" y1="786.55" x2="617.10" y2="786.55" stroke="#000" stroke-width="2.85" stroke-linecap="butt"/>
<line x1="611.30" y1="731.05" x2="617.10" y2="731.05" stroke="#000" stroke-width="2.85" stroke-linecap="butt"/>
<line x1="611.30" y1="675.55" x2="617.10" y2="675.55" stroke="#000" stroke-width="2.85" stroke-linecap="butt"/>
<line x1="611.30" y1="620.05" x2="617.10" y2="620.05" stroke="#000" stroke-width="2.85" stroke-linecap="butt"/>
<line x1="617.10" y1="869.80" x2="617.10" y2="881.40" stroke="#000" stroke-width="2.85" stroke-linecap="butt"/>
<text x="617.10" y="903.50" font-size="22.3" font-weight="bold" text-anchor="middle" stroke="#000" stroke-width="0.35" >t0</text>
<line x1="700.30" y1="869.80" x2="700.30" y2="881.40" stroke="#000" stroke-width="2.85" stroke-linecap="butt"/>
<text x="700.30" y="903.50" font-size="22.3" font-weight="bold" text-anchor="middle" stroke="#000" stroke-width="0.35" >t1</text>
<line x1="783.50" y1="869.80" x2="783.50" y2="881.40" stroke="#000" stroke-width="2.85" stroke-linecap="butt"/>
<text x="783.50" y="903.50" font-size="22.3" font-weight="bold" text-anchor="middle" stroke="#000" stroke-width="0.35" >t2</text>
<line x1="866.70" y1="869.80" x2="866.70" y2="881.40" stroke="#000" stroke-width="2.85" stroke-linecap="butt"/>
<text x="866.70" y="903.50" font-size="22.3" font-weight="bold" text-anchor="middle" stroke="#000" stroke-width="0.35" >t3</text>
<line x1="949.90" y1="869.80" x2="949.90" y2="881.40" stroke="#000" stroke-width="2.85" stroke-linecap="butt"/>
<text x="949.90" y="903.50" font-size="22.3" font-weight="bold" text-anchor="middle" stroke="#000" stroke-width="0.35" >t4</text>
<line x1="1033.10" y1="869.80" x2="1033.10" y2="881.40" stroke="#000" stroke-width="2.85" stroke-linecap="butt"/>
<text x="1033.10" y="903.50" font-size="22.3" font-weight="bold" text-anchor="middle" stroke="#000" stroke-width="0.35" >t5</text>
<text transform="translate(1105.90,718.20) rotate(-90) scale(1,1.07)" font-size="22.8" font-weight="bold" stroke="#000" stroke-width="0.35" text-anchor="middle">Relative gene expression [EU]</text>
<rect x="1168.20" y="824.44" width="17.5" height="44.26" fill="#000"/>
<line x1="1176.95" y1="779.43" x2="1176.95" y2="824.44" stroke="#000" stroke-width="1.45" stroke-linecap="butt"/>
<line x1="1172.65" y1="779.43" x2="1181.25" y2="779.43" stroke="#000" stroke-width="1.45" stroke-linecap="butt"/>
<rect x="1195.00" y="806.10" width="17.5" height="62.60" fill="#96979b"/>
<line x1="1203.70" y1="727.02" x2="1203.70" y2="868.70" stroke="#1a1a1a" stroke-width="1.45" stroke-linecap="butt"/>
<line x1="1199.40" y1="727.02" x2="1208.00" y2="727.02" stroke="#1a1a1a" stroke-width="1.45" stroke-linecap="butt"/>
<rect x="1238.90" y="832.59" width="17.5" height="36.11" fill="#000"/>
<line x1="1247.65" y1="797.95" x2="1247.65" y2="832.59" stroke="#000" stroke-width="1.45" stroke-linecap="butt"/>
<line x1="1243.35" y1="797.95" x2="1251.95" y2="797.95" stroke="#000" stroke-width="1.45" stroke-linecap="butt"/>
<rect x="1265.70" y="792.21" width="17.5" height="76.49" fill="#96979b"/>
<line x1="1274.40" y1="660.35" x2="1274.40" y2="868.70" stroke="#1a1a1a" stroke-width="1.45" stroke-linecap="butt"/>
<line x1="1270.10" y1="660.35" x2="1278.70" y2="660.35" stroke="#1a1a1a" stroke-width="1.45" stroke-linecap="butt"/>
<rect x="1309.60" y="810.18" width="17.5" height="58.52" fill="#000"/>
<line x1="1318.35" y1="735.54" x2="1318.35" y2="810.18" stroke="#000" stroke-width="1.45" stroke-linecap="butt"/>
<line x1="1314.05" y1="735.54" x2="1322.65" y2="735.54" stroke="#000" stroke-width="1.45" stroke-linecap="butt"/>
<rect x="1336.40" y="813.51" width="17.5" height="55.19" fill="#96979b"/>
<line x1="1345.10" y1="761.28" x2="1345.10" y2="865.92" stroke="#1a1a1a" stroke-width="1.45" stroke-linecap="butt"/>
<line x1="1340.80" y1="761.28" x2="1349.40" y2="761.28" stroke="#1a1a1a" stroke-width="1.45" stroke-linecap="butt"/>
<line x1="1340.80" y1="865.92" x2="1349.40" y2="865.92" stroke="#1a1a1a" stroke-width="1.45" stroke-linecap="butt"/>
<rect x="1380.30" y="837.22" width="17.5" height="31.48" fill="#000"/>
<line x1="1389.05" y1="809.62" x2="1389.05" y2="837.22" stroke="#000" stroke-width="1.45" stroke-linecap="butt"/>
<line x1="1384.75" y1="809.62" x2="1393.35" y2="809.62" stroke="#000" stroke-width="1.45" stroke-linecap="butt"/>
<rect x="1407.10" y="818.33" width="17.5" height="50.37" fill="#96979b"/>
<line x1="1415.80" y1="787.95" x2="1415.80" y2="848.70" stroke="#1a1a1a" stroke-width="1.45" stroke-linecap="butt"/>
<line x1="1411.50" y1="787.95" x2="1420.10" y2="787.95" stroke="#1a1a1a" stroke-width="1.45" stroke-linecap="butt"/>
<line x1="1411.50" y1="848.70" x2="1420.10" y2="848.70" stroke="#1a1a1a" stroke-width="1.45" stroke-linecap="butt"/>
<rect x="1451.00" y="847.03" width="17.5" height="21.67" fill="#000"/>
<line x1="1459.75" y1="819.07" x2="1459.75" y2="847.03" stroke="#000" stroke-width="1.45" stroke-linecap="butt"/>
<line x1="1455.45" y1="819.07" x2="1464.05" y2="819.07" stroke="#000" stroke-width="1.45" stroke-linecap="butt"/>
<rect x="1477.80" y="832.40" width="17.5" height="36.30" fill="#96979b"/>
<line x1="1486.50" y1="787.21" x2="1486.50" y2="868.70" stroke="#1a1a1a" stroke-width="1.45" stroke-linecap="butt"/>
<line x1="1482.20" y1="787.21" x2="1490.80" y2="787.21" stroke="#1a1a1a" stroke-width="1.45" stroke-linecap="butt"/>
<rect x="1521.70" y="835.36" width="17.5" height="33.34" fill="#000"/>
<line x1="1530.45" y1="825.18" x2="1530.45" y2="835.36" stroke="#000" stroke-width="1.45" stroke-linecap="butt"/>
<line x1="1526.15" y1="825.18" x2="1534.75" y2="825.18" stroke="#000" stroke-width="1.45" stroke-linecap="butt"/>
<rect x="1548.50" y="749.80" width="17.5" height="118.90" fill="#96979b"/>
<line x1="1557.20" y1="604.98" x2="1557.20" y2="868.70" stroke="#1a1a1a" stroke-width="1.45" stroke-linecap="butt"/>
<line x1="1552.90" y1="604.98" x2="1561.50" y2="604.98" stroke="#1a1a1a" stroke-width="1.45" stroke-linecap="butt"/>
<line x1="1160.00" y1="870.12" x2="1160.00" y2="589.48" stroke="#000" stroke-width="2.85" stroke-linecap="butt"/>
<line x1="1158.58" y1="868.70" x2="1576.00" y2="868.70" stroke="#000" stroke-width="2.85" stroke-linecap="butt"/>
<line x1="1148.40" y1="868.70" x2="1160.00" y2="868.70" stroke="#000" stroke-width="2.85" stroke-linecap="butt"/>
<text x="1146.50" y="876.62" font-size="22" font-weight="bold" text-anchor="end" stroke="#000" stroke-width="0.35" >0</text>
<line x1="1148.40" y1="776.10" x2="1160.00" y2="776.10" stroke="#000" stroke-width="2.85" stroke-linecap="butt"/>
<text x="1146.50" y="784.02" font-size="22" font-weight="bold" text-anchor="end" stroke="#000" stroke-width="0.35" >5</text>
<line x1="1148.40" y1="683.50" x2="1160.00" y2="683.50" stroke="#000" stroke-width="2.85" stroke-linecap="butt"/>
<text x="1146.50" y="691.42" font-size="22" font-weight="bold" text-anchor="end" stroke="#000" stroke-width="0.35" >10</text>
<line x1="1148.40" y1="590.90" x2="1160.00" y2="590.90" stroke="#000" stroke-width="2.85" stroke-linecap="butt"/>
<text x="1146.50" y="598.82" font-size="22" font-weight="bold" text-anchor="end" stroke="#000" stroke-width="0.35" >15</text>
<line x1="1153.30" y1="822.40" x2="1160.00" y2="822.40" stroke="#000" stroke-width="2.85" stroke-linecap="butt"/>
<line x1="1153.30" y1="729.80" x2="1160.00" y2="729.80" stroke="#000" stroke-width="2.85" stroke-linecap="butt"/>
<line x1="1153.30" y1="637.20" x2="1160.00" y2="637.20" stroke="#000" stroke-width="2.85" stroke-linecap="butt"/>
<line x1="1190.20" y1="868.70" x2="1190.20" y2="881.00" stroke="#000" stroke-width="2.85" stroke-linecap="butt"/>
<text x="1190.20" y="901.70" font-size="21.5" font-weight="bold" text-anchor="middle" stroke="#000" stroke-width="0.35" >t0</text>
<line x1="1260.90" y1="868.70" x2="1260.90" y2="881.00" stroke="#000" stroke-width="2.85" stroke-linecap="butt"/>
<text x="1260.90" y="901.70" font-size="21.5" font-weight="bold" text-anchor="middle" stroke="#000" stroke-width="0.35" >t1</text>
<line x1="1331.60" y1="868.70" x2="1331.60" y2="881.00" stroke="#000" stroke-width="2.85" stroke-linecap="butt"/>
<text x="1331.60" y="901.70" font-size="21.5" font-weight="bold" text-anchor="middle" stroke="#000" stroke-width="0.35" >t2</text>
<line x1="1402.30" y1="868.70" x2="1402.30" y2="881.00" stroke="#000" stroke-width="2.85" stroke-linecap="butt"/>
<text x="1402.30" y="901.70" font-size="21.5" font-weight="bold" text-anchor="middle" stroke="#000" stroke-width="0.35" >t3</text>
<line x1="1473.00" y1="868.70" x2="1473.00" y2="881.00" stroke="#000" stroke-width="2.85" stroke-linecap="butt"/>
<text x="1473.00" y="901.70" font-size="21.5" font-weight="bold" text-anchor="middle" stroke="#000" stroke-width="0.35" >t4</text>
<line x1="1543.70" y1="868.70" x2="1543.70" y2="881.00" stroke="#000" stroke-width="2.85" stroke-linecap="butt"/>
<text x="1543.70" y="901.70" font-size="21.5" font-weight="bold" text-anchor="middle" stroke="#000" stroke-width="0.35" >t5</text>
<rect x="1327.9" y="573.7" width="33.9" height="19.8" fill="#000"/>
<rect x="1327.9" y="612.6" width="33.9" height="19.9" fill="#96979b"/>
<text x="1376.00" y="591.60" font-size="22.7" font-weight="normal" text-anchor="start"  stroke="#000" stroke-width="0.15">CTX+</text>
<text x="1376.00" y="630.40" font-size="22.7" font-weight="normal" text-anchor="start"  stroke="#000" stroke-width="0.15">CTX-</text>
</svg>
</body></html>
